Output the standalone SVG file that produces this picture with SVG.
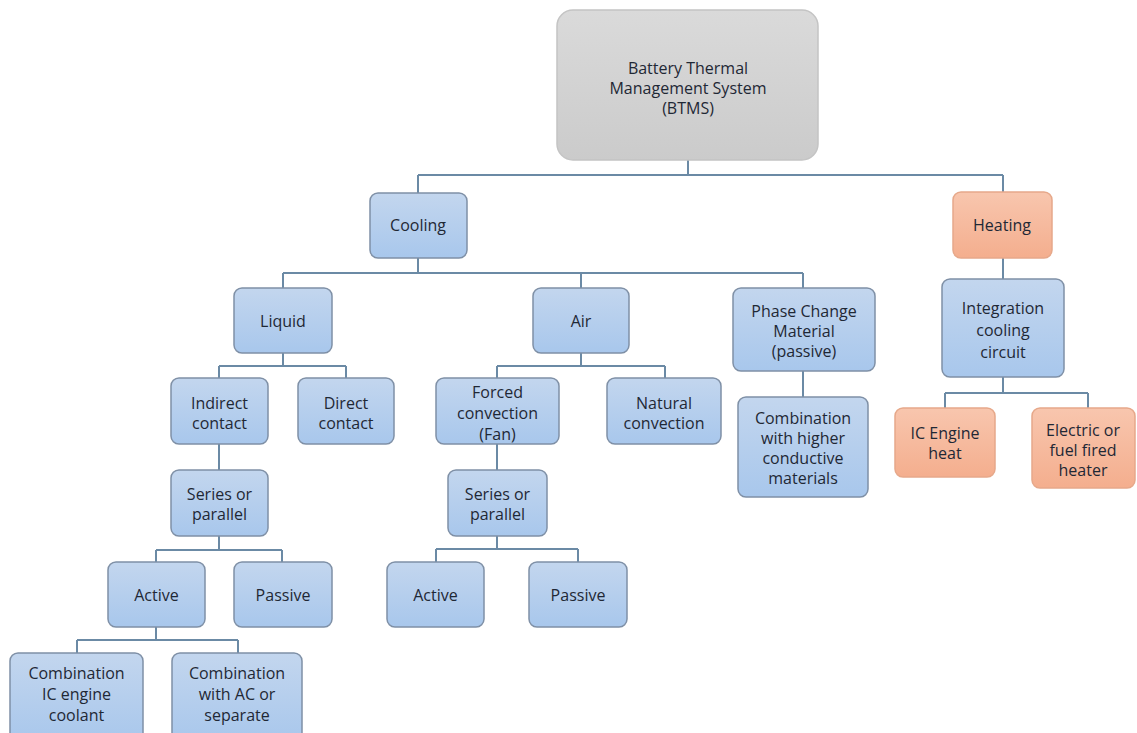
<svg xmlns="http://www.w3.org/2000/svg" width="1137" height="733" viewBox="0 0 1137 733">
<defs>
<linearGradient id="gb" x1="0" y1="0" x2="0" y2="1"><stop offset="0" stop-color="#c3d6ee"/><stop offset="1" stop-color="#a8c7ec"/></linearGradient>
<linearGradient id="go" x1="0" y1="0" x2="0" y2="1"><stop offset="0" stop-color="#f8c6ae"/><stop offset="1" stop-color="#f4ae8e"/></linearGradient>
<linearGradient id="gg" x1="0" y1="0" x2="0" y2="1"><stop offset="0" stop-color="#dadada"/><stop offset="1" stop-color="#cbcbcb"/></linearGradient>
</defs>
<style>
.b{fill:url(#gb);stroke:#7f90a6;stroke-width:1.5}
.o{fill:url(#go);stroke:#e6a88a;stroke-width:1.5}
.g{fill:url(#gg);stroke:#c4c4c4;stroke-width:1.5}
text{font-family:"Open Sans","Liberation Sans",sans-serif;font-size:16px;fill:#1f2835;text-anchor:middle}
.c{fill:none;stroke:#6b8aa5;stroke-width:2}
</style>
<rect width="1137" height="733" fill="#ffffff"/>
<g id="connectors">
<path class="c" d="M688 160V175M418 175H1003M418 175V193M1003 175V192"/>
<path class="c" d="M418 258V273M283 273H803M283 273V288M581 273V288M803 273V288"/>
<path class="c" d="M283 353V366M219 366H346M219 366V378M346 366V378"/>
<path class="c" d="M219 444V470M219 536V550M156 550H282M156 550V562M282 550V562"/>
<path class="c" d="M156 627V640M77 640H238M77 640V653M238 640V653"/>
<path class="c" d="M581 353V366M497 366H665M497 366V378M665 366V378"/>
<path class="c" d="M497 444V470M497 536V549M436 549H578M436 549V562M578 549V562"/>
<path class="c" d="M803 371V397"/>
<path class="c" d="M1003 258V279M1003 377V393M945 393H1088M945 393V408M1088 393V408"/>
</g>
<g id="btms"><rect class="g" x="557" y="10" width="261" height="150" rx="16"/><text x="688" y="74">Battery Thermal</text><text x="688" y="94">Management System</text><text x="688" y="114">(BTMS)</text></g>
<g id="cooling"><rect class="b" x="370" y="193" width="97" height="65" rx="8"/><text x="418" y="231">Cooling</text></g>
<g id="heating"><rect class="o" x="953" y="192" width="99" height="66" rx="8"/><text x="1002" y="231">Heating</text></g>
<g id="liquid"><rect class="b" x="234" y="288" width="98" height="65" rx="8"/><text x="283" y="327">Liquid</text></g>
<g id="air"><rect class="b" x="533" y="288" width="96" height="65" rx="8"/><text x="581" y="327">Air</text></g>
<g id="pcm"><rect class="b" x="733" y="288" width="142" height="83" rx="8"/><text x="804" y="317">Phase Change</text><text x="804" y="337">Material</text><text x="804" y="357">(passive)</text></g>
<g id="integration"><rect class="b" x="942" y="279" width="122" height="98" rx="8"/><text x="1003" y="314">Integration</text><text x="1003" y="336">cooling</text><text x="1003" y="358">circuit</text></g>
<g id="indirect"><rect class="b" x="171" y="378" width="97" height="66" rx="8"/><text x="219.5" y="409">Indirect</text><text x="219.5" y="429">contact</text></g>
<g id="direct"><rect class="b" x="298" y="378" width="96" height="66" rx="8"/><text x="346" y="409">Direct</text><text x="346" y="429">contact</text></g>
<g id="forced"><rect class="b" x="436" y="378" width="123" height="66" rx="8"/><text x="497.5" y="398">Forced</text><text x="497.5" y="419">convection</text><text x="497.5" y="440">(Fan)</text></g>
<g id="natural"><rect class="b" x="607" y="378" width="114" height="66" rx="8"/><text x="664" y="409">Natural</text><text x="664" y="429">convection</text></g>
<g id="pcm-combination"><rect class="b" x="738" y="397" width="130" height="100" rx="8"/><text x="803" y="424">Combination</text><text x="803" y="444">with higher</text><text x="803" y="464">conductive</text><text x="803" y="484">materials</text></g>
<g id="liquid-series"><rect class="b" x="171" y="470" width="97" height="66" rx="8"/><text x="219.5" y="500">Series or</text><text x="219.5" y="520">parallel</text></g>
<g id="air-series"><rect class="b" x="448" y="470" width="99" height="66" rx="8"/><text x="497.5" y="500">Series or</text><text x="497.5" y="520">parallel</text></g>
<g id="liquid-active"><rect class="b" x="108" y="562" width="97" height="65" rx="8"/><text x="156.5" y="601">Active</text></g>
<g id="liquid-passive"><rect class="b" x="234" y="562" width="98" height="65" rx="8"/><text x="283" y="601">Passive</text></g>
<g id="air-active"><rect class="b" x="387" y="562" width="97" height="65" rx="8"/><text x="435.5" y="601">Active</text></g>
<g id="air-passive"><rect class="b" x="529" y="562" width="98" height="65" rx="8"/><text x="578" y="601">Passive</text></g>
<g id="ic-coolant"><rect class="b" x="10" y="653" width="133" height="90" rx="8"/><text x="76.5" y="679">Combination</text><text x="76.5" y="700">IC engine</text><text x="76.5" y="721">coolant</text></g>
<g id="ac-separate"><rect class="b" x="172" y="653" width="130" height="90" rx="8"/><text x="237" y="679">Combination</text><text x="237" y="700">with AC or</text><text x="237" y="721">separate</text></g>
<g id="ic-heat"><rect class="o" x="895" y="408" width="100" height="69" rx="8"/><text x="945" y="439">IC Engine</text><text x="945" y="459">heat</text></g>
<g id="electric"><rect class="o" x="1032" y="408" width="103" height="80" rx="8"/><text x="1083" y="436">Electric or</text><text x="1083" y="456">fuel fired</text><text x="1083" y="476">heater</text></g>
</svg>
